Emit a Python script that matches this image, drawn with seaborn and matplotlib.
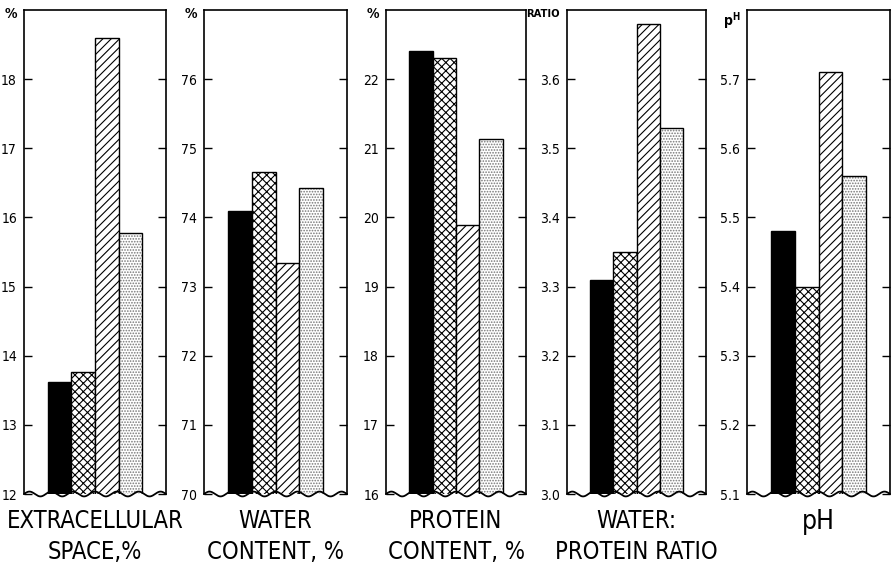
import numpy as np
import matplotlib
matplotlib.use("Agg")
import matplotlib.pyplot as plt
from matplotlib.patches import Rectangle
import seaborn as sns

# Four tissue groups, drawn left to right in every panel
groups = ["I", "II", "III", "IV"]

extracellular_space = [13.62, 13.77, 18.60, 15.77]
water_content = [74.09, 74.66, 73.34, 74.43]
protein_content = [22.40, 22.30, 19.89, 21.13]
water_protein_ratio = [3.31, 3.35, 3.68, 3.53]
ph_values = [5.48, 5.40, 5.71, 5.56]

panel_titles = [
    ("EXTRACELLULAR", "SPACE,%"),
    ("WATER", "CONTENT, %"),
    ("PROTEIN", "CONTENT, %"),
    ("WATER:", "PROTEIN RATIO"),
    ("pH", None),
]
unit_labels = ["%", "%", "%", "RATIO", r"$\mathregular{p^H}$"]
y_limits = [(12, 19), (70, 77), (16, 23), (3.0, 3.7), (5.1, 5.8)]
y_ticks = [
    [12, 13, 14, 15, 16, 17, 18],
    [70, 71, 72, 73, 74, 75, 76],
    [16, 17, 18, 19, 20, 21, 22],
    [3.0, 3.1, 3.2, 3.3, 3.4, 3.5, 3.6],
    [5.1, 5.2, 5.3, 5.4, 5.5, 5.6, 5.7],
]
tick_labels = [
    ["12", "13", "14", "15", "16", "17", "18"],
    ["70", "71", "72", "73", "74", "75", "76"],
    ["16", "17", "18", "19", "20", "21", "22"],
    ["3.0", "3.1", "3.2", "3.3", "3.4", "3.5", "3.6"],
    ["5.1", "5.2", "5.3", "5.4", "5.5", "5.6", "5.7"],
]
series = [extracellular_space, water_content, protein_content,
          water_protein_ratio, ph_values]

sns.set_style("white")
plt.rcParams["font.family"] = ["DejaVu Sans"]
plt.rcParams["font.stretch"] = "condensed"
plt.rcParams["text.color"] = "black"
plt.rcParams["ytick.color"] = "black"
plt.rcParams["ytick.labelcolor"] = "black"
plt.rcParams["hatch.linewidth"] = 0.8
plt.rcParams["mathtext.fontset"] = "dejavusans"

W, H = 892, 569
fig = plt.figure(figsize=(W / 100, H / 100), dpi=100)

# panel frames in pixels: (left, right)
frames = [(24, 166), (204, 347), (386, 526), (567, 706), (747, 890)]
top_px, bottom_px = 10, 494

styles = [
    dict(face="black", hatch=None),
    dict(face="white", hatch="xxxx"),
    dict(face="white", hatch="////"),
    dict(face="white", hatch="......"),
]

for i, (left, right) in enumerate(frames):
    ax = fig.add_axes([left / W, 1 - bottom_px / H,
                       (right - left) / W, (bottom_px - top_px) / H])
    sns.barplot(x=groups, y=series[i], ax=ax, color="white",
                edgecolor="black", linewidth=1.0, width=1.0, saturation=1)
    ax.set_ylim(*y_limits[i])
    ax.set_xlim(-1.5, 4.5)
    ax.set_xticks([])
    ax.set_xlabel("")
    ax.set_ylabel("")
    ax.set_yticks(y_ticks[i])
    ax.set_yticklabels(tick_labels[i], fontsize=10, fontstretch="condensed",
                       color="black")
    ax.tick_params(axis="y", direction="in", length=6, width=1.0,
                   left=True, right=True, pad=5, colors="black")

    for patch, st in zip(ax.patches, styles):
        patch.set_facecolor(st["face"])
        if st["hatch"]:
            patch.set_hatch(st["hatch"])
        if st["hatch"] == "......":
            # grey stipple with a separate black outline
            patch.set_edgecolor("#777777")
            patch.set_linewidth(0)
            ax.add_patch(Rectangle((patch.get_x(), patch.get_y()),
                                   patch.get_width(), patch.get_height(),
                                   fill=False, edgecolor="black",
                                   linewidth=1.0, zorder=patch.get_zorder()))

    for side in ("left", "right", "top"):
        ax.spines[side].set_visible(True)
        ax.spines[side].set_linewidth(1.2)
        ax.spines[side].set_color("black")
    ax.spines["bottom"].set_visible(False)

    # broken-axis wave along the base
    t = np.linspace(0, 1, 400)
    ax.plot(t, 0.005 * np.sin(2 * np.pi * 6.5 * t), transform=ax.transAxes,
            color="black", linewidth=1.3, clip_on=False, zorder=5)

    # unit label above the tick labels
    ax.annotate(unit_labels[i], xy=(0, 1), xycoords="axes fraction",
                xytext=(-5, -3 if i < 4 else -8), textcoords="offset points",
                ha="right", va="center", fontstretch="condensed",
                fontsize=8 if i == 3 else 10, fontweight="bold", color="black")

    # panel caption beneath
    cx = (left + right) / 2 / W
    l1, l2 = panel_titles[i]
    if l2 is None:
        fig.text(cx, 1 - 522 / H, l1, ha="center", va="center", fontsize=19,
                 fontstretch="condensed", color="black")
    else:
        fig.text(cx, 1 - 521 / H, l1, ha="center", va="center", fontsize=17,
                 fontstretch="condensed", color="black")
        fig.text(cx, 1 - 552 / H, l2, ha="center", va="center", fontsize=17,
                 fontstretch="condensed", color="black")

fig.savefig("out.png", dpi=100)
